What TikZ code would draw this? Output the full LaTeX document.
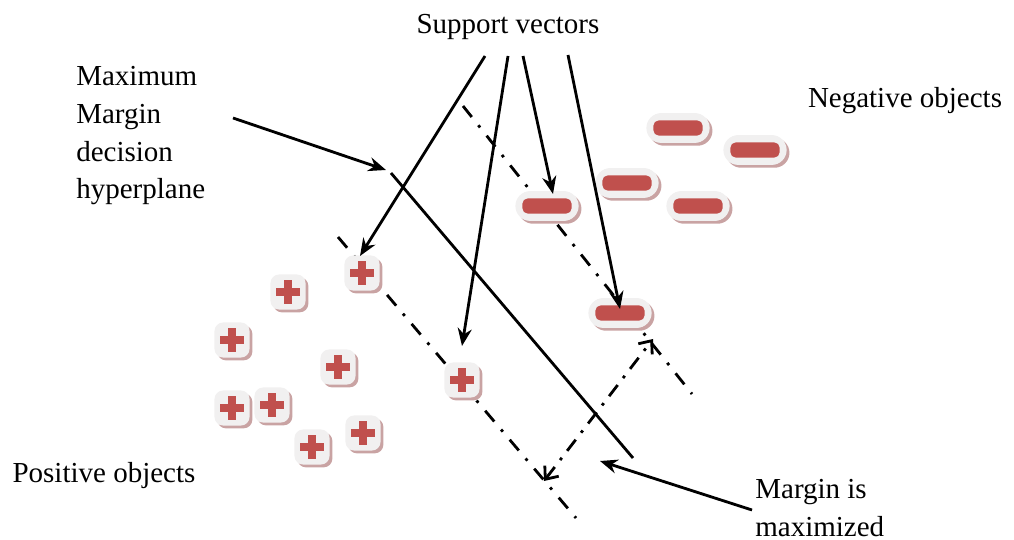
\documentclass[tikz,border=0pt]{standalone}
\usepackage{fontspec}
\setmainfont{Liberation Serif}
\usetikzlibrary{arrows.meta,shapes.misc}
\definecolor{redc}{HTML}{C0504D}
\definecolor{boxgray}{HTML}{F1F0F0}
\definecolor{shadowc}{HTML}{C9A3A3}
\begin{document}
\begin{tikzpicture}[x=0.02cm,y=-0.02cm,
  lbl/.style={font=\fontsize{16.5}{21.5}\selectfont, inner sep=0pt, align=left},
  posobj/.style={rounded corners=5pt, fill=boxgray, minimum size=20pt, inner sep=0pt,
    preaction={fill=shadowc, transform canvas={shift={(1.6pt,-1.6pt)}}},
    path picture={
      \fill[redc, sharp corners] ([shift={(-6.8pt,-2.2pt)}]path picture bounding box.center) rectangle ++(13.6pt,4.4pt);
      \fill[redc, sharp corners] ([shift={(-2.2pt,-6.8pt)}]path picture bounding box.center) rectangle ++(4.4pt,13.6pt);
    }},
  negobj/.style={rounded rectangle, fill=boxgray, minimum width=36pt, minimum height=17pt, inner sep=0pt,
    preaction={fill=shadowc, transform canvas={shift={(1.6pt,-1.6pt)}}},
    path picture={
      \fill[redc, rounded corners=3pt] ([shift={(-14pt,-4.3pt)}]path picture bounding box.center) rectangle ++(28pt,8.6pt);
    }},
  arr/.style={line width=1.6pt, -{Stealth[length=10pt,width=8pt]}},
  margin/.style={line width=1.6pt, dash pattern=on 8pt off 6pt on 1.6pt off 6pt},
  dbl/.style={line width=1.6pt, dash pattern=on 8pt off 5pt on 1.6pt off 5pt,
    {Straight Barb[length=6pt,width=10pt]}-{Straight Barb[length=6pt,width=10pt]}}
]
\useasboundingbox (0,0) rectangle (1014,540);

% texts
\node[lbl] (sv) at (508,27) {Support vectors};
\node[lbl, anchor=north west] (mm) at (76,66) {Maximum\\Margin\\decision\\hyperplane};
\node[lbl] (neg) at (905,101) {Negative objects};
\node[lbl] (pos) at (104,476) {Positive objects};
\node[lbl, anchor=north west] (mx) at (755,479) {Margin is\\maximized};

% coordinates
\coordinate (h1) at (391,173);
\coordinate (h2) at (633,458);
\coordinate (u1) at (463,106);
\coordinate (u2) at (692,394);
\coordinate (l1) at (338,237);
\coordinate (l2) at (576,518);
\coordinate (ma) at (544,481);
\coordinate (mb) at (653,339);
\coordinate (a1) at (233,118);
\coordinate (a1t) at (386,170);
\coordinate (a2) at (752,510);
\coordinate (a2t) at (600,461);
\coordinate (s1) at (485,56);
\coordinate (s2) at (508,56);
\coordinate (s3) at (523,56);
\coordinate (s4) at (568,55);
\coordinate (t1) at (360,256);
\coordinate (t2) at (462,346);
\coordinate (t3) at (553,194);
\coordinate (t4) at (620,309);

% lines
\draw[margin] (u1) -- (u2);
\draw[margin] (l1) -- (l2);
\draw[line width=1.6pt] (h1) -- (h2);

% positive objects
\node[posobj] (p1) at (362,273) {};
\node[posobj] (p2) at (288,292) {};
\node[posobj] (p3) at (232,340) {};
\node[posobj] (p4) at (338,367) {};
\node[posobj] (p5) at (462,380) {};
\node[posobj] (p6) at (232,408) {};
\node[posobj] (p7) at (272,405) {};
\node[posobj] (p8) at (312,447) {};
\node[posobj] (p9) at (363,433) {};

% negative objects
\node[negobj] (n1) at (678,128) {};
\node[negobj] (n2) at (755,150) {};
\node[negobj] (n3) at (627,183) {};
\node[negobj] (n4) at (547,206) {};
\node[negobj] (n5) at (698,206) {};
\node[negobj] (n6) at (620,313) {};

% arrows
\draw[arr] (a1) -- (a1t);
\draw[arr] (a2) -- (a2t);
\draw[arr] (s1) -- (t1);
\draw[arr] (s2) -- (t2);
\draw[arr] (s3) -- (t3);
\draw[arr] (s4) -- (t4);
\draw[dbl] (ma) -- (mb);
\end{tikzpicture}
\end{document}
